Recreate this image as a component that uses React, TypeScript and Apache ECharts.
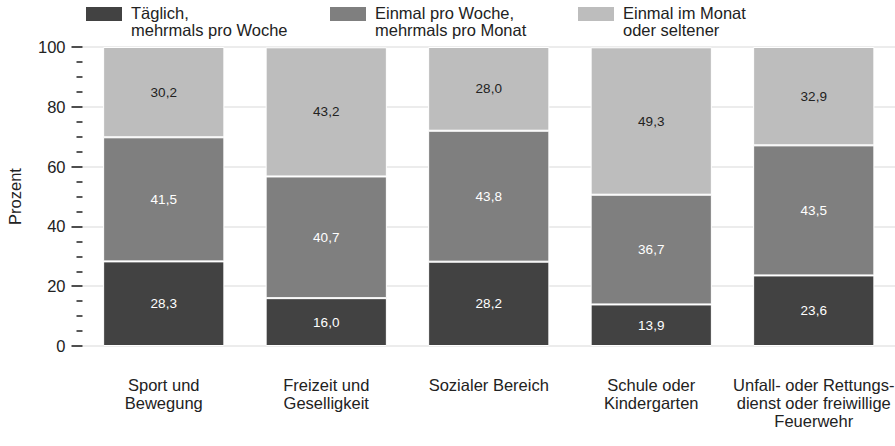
import React, { useEffect, useRef } from "react";
import * as echarts from "echarts";

const categories = [
  "Sport und\nBewegung",
  "Freizeit und\nGeselligkeit",
  "Sozialer Bereich",
  "Schule oder\nKindergarten",
  "Unfall- oder Rettungs-\ndienst oder freiwillige\nFeuerwehr",
];
const seriesNames = [
  "Täglich,\nmehrmals pro Woche",
  "Einmal pro Woche,\nmehrmals pro Monat",
  "Einmal im Monat\noder seltener",
];
const daily = [28.3, 16.0, 28.2, 13.9, 23.6];
const weekly = [41.5, 40.7, 43.8, 36.7, 43.5];
const monthly = [30.2, 43.2, 28.0, 49.3, 32.9];
const colors = ["#424242", "#7f7f7f", "#bdbdbd"];
const labelColors = ["#ffffff", "#ffffff", "#222222"];
const yTicks = [0, 20, 40, 60, 80, 100];

const FONT = "'Liberation Sans', Arial, Helvetica, sans-serif";

export default function App() {
  const ref = useRef<HTMLDivElement>(null);
  useEffect(() => {
    document.body.style.margin = "0";
    const chart = echarts.init(ref.current!, null, { renderer: "svg" });
    const data = [daily, weekly, monthly];
    const legendX = [86, 330, 578];
    const graphic: any[] = [];
    seriesNames.forEach((n, i) => {
      graphic.push({
        type: "rect",
        left: legendX[i],
        top: 7,
        shape: { width: 36, height: 14 },
        style: { fill: colors[i] },
      });
      graphic.push({
        type: "text",
        left: legendX[i] + 45,
        top: 4,
        style: {
          text: n,
          font: `16.5px ${FONT}`,
          fill: "#222",
          lineHeight: 17,
        },
      });
    });
    chart.setOption({
      animation: false,
      textStyle: { fontFamily: FONT },
      grid: {
        left: 82.5,
        right: 0,
        top: 47,
        bottom: 100,
        containLabel: false,
        outerBoundsMode: "none",
      },
      graphic,
      xAxis: {
        type: "category",
        data: categories,
        axisLine: { show: false },
        axisTick: { show: false },
        axisLabel: {
          color: "#222",
          fontSize: 16.5,
          lineHeight: 18,
          margin: 30,
          interval: 0,
          hideOverlap: false,
        },
      },
      yAxis: {
        type: "value",
        min: yTicks[0],
        max: yTicks[yTicks.length - 1],
        interval: 20,
        name: "Prozent",
        nameLocation: "middle",
        nameRotate: 90,
        nameGap: 59,
        nameTextStyle: { color: "#222", fontSize: 16.5 },
        axisLine: { show: false },
        axisTick: { show: true, length: 11, lineStyle: { color: "#222", width: 1.6 } },
        minorTick: { show: true, splitNumber: 4, length: 6, lineStyle: { color: "#222", width: 1.5 } },
        splitLine: { show: true, lineStyle: { color: "#e6e6e6", width: 1.5 } },
        axisLabel: { color: "#222", fontSize: 16.5, margin: 17 },
      },
      series: data.map((d, i) => ({
        type: "bar",
        name: seriesNames[i],
        stack: "total",
        data: d,
        barWidth: "74.6%",
        itemStyle: { color: colors[i], borderColor: "#ffffff", borderWidth: 1 },
        label: {
          show: true,
          position: "inside",
          color: labelColors[i],
          fontSize: 13.5,
          formatter: (p: any) => p.value.toFixed(1).replace(".", ","),
        },
      })),
    });
    return () => chart.dispose();
  }, []);
  return <div ref={ref} style={{ width: 895, height: 446 }} />;
}
